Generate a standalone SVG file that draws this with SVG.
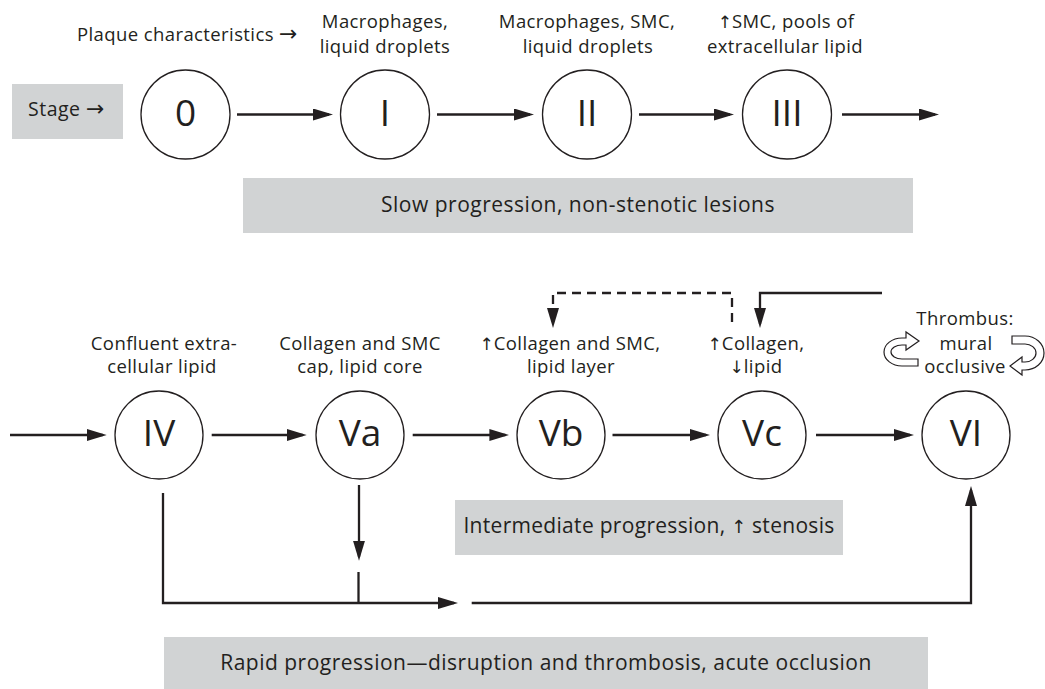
<svg xmlns="http://www.w3.org/2000/svg" width="1045" height="689" viewBox="0 0 1045 689">
<style>
text{font-family:"Open Sans","Noto Sans","Liberation Sans",sans-serif;fill:#231f20}
.lbl{font-size:18.5px;letter-spacing:0.4px;text-anchor:middle}
.bx{font-size:21px;letter-spacing:0.5px;text-anchor:middle}
.st{font-size:19.5px;letter-spacing:0.5px}
.num{font-size:37px;text-anchor:middle}
.ar{font-family:"DejaVu Sans",sans-serif;letter-spacing:0;fill:#231f20}
.node circle{fill:#fff;stroke:#231f20;stroke-width:1.3}
.band{fill:#d1d3d4}
.c{fill:none;stroke:#231f20;stroke-width:2.3}
.c.a{marker-end:url(#ah)}
.d{stroke-dasharray:9 6}
.rot{fill:#fff;stroke:#231f20;stroke-width:1.2;stroke-linejoin:miter}
</style>
<defs>
<marker id="ah" markerUnits="userSpaceOnUse" markerWidth="20" markerHeight="12" refX="16" refY="6" orient="auto">
<path d="M0,0 L20,6 L0,12 Z" fill="#231f20"/>
</marker>
</defs>

<g id="bands">
<g id="stage-box"><rect class="band" x="12" y="84" width="111" height="55"/><text class="st" x="28" y="116">Stage <tspan class="ar" font-size="22">→</tspan></text></g>
<g id="slow-box"><rect class="band" x="243" y="178" width="670" height="55"/><text class="bx" x="578" y="212">Slow progression, non-stenotic lesions</text></g>
<g id="intermediate-box"><rect class="band" x="455" y="500" width="388" height="55"/><text class="bx" x="649" y="533" style="letter-spacing:0.3px">Intermediate progression, <tspan class="ar" font-size="18">↑</tspan> stenosis</text></g>
<g id="rapid-box"><rect class="band" x="164" y="637" width="764" height="52"/><text class="bx" x="546" y="670">Rapid progression—disruption and thrombosis, acute occlusion</text></g>
</g>

<g id="labels">
<text class="lbl" x="77" y="41" style="text-anchor:start">Plaque characteristics <tspan class="ar" font-size="22">→</tspan></text>
<g id="lbl-I"><text class="lbl" x="385" y="28">Macrophages,</text><text class="lbl" x="385" y="53">liquid droplets</text></g>
<g id="lbl-II"><text class="lbl" x="587" y="28">Macrophages, SMC,</text><text class="lbl" x="588" y="53">liquid droplets</text></g>
<g id="lbl-III"><text class="lbl" x="786" y="28"><tspan class="ar" font-size="17">↑</tspan>SMC, pools of</text><text class="lbl" x="785" y="53">extracellular lipid</text></g>
<g id="lbl-IV"><text class="lbl" x="164" y="350">Confluent extra-</text><text class="lbl" x="162" y="373">cellular lipid</text></g>
<g id="lbl-Va"><text class="lbl" x="360" y="350">Collagen and SMC</text><text class="lbl" x="360" y="373">cap, lipid core</text></g>
<g id="lbl-Vb"><text class="lbl" x="570" y="350"><tspan class="ar" font-size="17">↑</tspan>Collagen and SMC,</text><text class="lbl" x="571" y="373">lipid layer</text></g>
<g id="lbl-Vc"><text class="lbl" x="756" y="350"><tspan class="ar" font-size="17">↑</tspan>Collagen,</text><text class="lbl" x="756" y="373"><tspan class="ar" font-size="17">↓</tspan>lipid</text></g>
<g id="lbl-VI"><text class="lbl" x="965" y="325">Thrombus:</text><text class="lbl" x="966" y="350">mural</text><text class="lbl" x="965" y="373">occlusive</text>
<path class="rot" d="M918,366 L902,366 A18,14 0 0 1 902,338 L906,338 L906,332 L919,341 L906,350 L906,345 L902,345 A11,7 0 0 0 902,359 L918,359 Z"/>
<path class="rot" d="M1012,336 L1025,336 A19,17 0 0 1 1025,370 L1022,370 L1022,375 L1010,366 L1022,357 L1022,362 L1025,362 A11,9 0 0 0 1025,344 L1012,344 Z"/>
</g>
</g>

<g id="connectors">
<path class="c a" d="M237,114.5 H329"/>
<path class="c a" d="M437,114.5 H530"/>
<path class="c a" d="M639,114.5 H730"/>
<path class="c a" d="M842,114.5 H935"/>
<path class="c a" d="M10,435 H102.7"/>
<path class="c a" d="M211.7,435 H302.7"/>
<path class="c a" d="M412.7,435 H505.4"/>
<path class="c a" d="M612.5,435 H706"/>
<path class="c a" d="M816,435 H910"/>
<path class="c a" d="M163,493 V603 H454"/>
<path class="c a" d="M359,485 V556.7"/>
<path class="c" d="M358.5,572 V603"/>
<path class="c a" d="M471.7,603 H971 V490"/>
<path class="c a d" d="M732,322 V293 H553 V324"/>
<path class="c a" d="M882,293 H760 V324"/>
</g>

<g id="nodes">
<g id="n0" class="node"><circle cx="185.5" cy="114.5" r="44.5"/><text class="num" x="185.5" y="126">0</text></g>
<g id="nI" class="node"><circle cx="385" cy="114.5" r="44.5"/><text class="num" x="385" y="126">I</text></g>
<g id="nII" class="node"><circle cx="587" cy="114.5" r="44.5"/><text class="num" x="587" y="126">II</text></g>
<g id="nIII" class="node"><circle cx="787" cy="114.5" r="44.5"/><text class="num" x="787" y="126">III</text></g>
<g id="nIV" class="node"><circle cx="159" cy="435" r="44"/><text class="num" x="159" y="446">IV</text></g>
<g id="nVa" class="node"><circle cx="360" cy="435" r="44"/><text class="num" x="360" y="446">Va</text></g>
<g id="nVb" class="node"><circle cx="561" cy="435" r="44"/><text class="num" x="561" y="446">Vb</text></g>
<g id="nVc" class="node"><circle cx="762" cy="435" r="44"/><text class="num" x="762" y="446">Vc</text></g>
<g id="nVI" class="node"><circle cx="966" cy="435" r="44"/><text class="num" x="966" y="446">VI</text></g>
</g>
</svg>
